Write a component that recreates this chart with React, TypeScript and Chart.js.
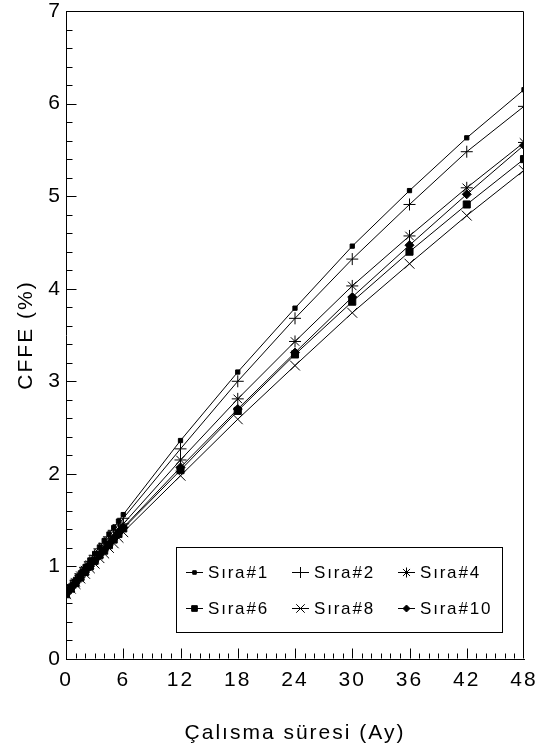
import React, { useEffect, useRef } from 'react';
import { Chart, registerables } from 'chart.js';
import { drawPoint } from 'chart.js/helpers';

Chart.register(...registerables);

// months of operation
const months = [0, 0.5, 1, 1.5, 2, 2.5, 3, 3.5, 4, 4.5, 5, 5.5, 6, 12, 18, 24, 30, 36, 42, 48];

const sira1 = [0.72, 0.79, 0.86, 0.93, 1.0, 1.07, 1.14, 1.21, 1.28, 1.35, 1.42, 1.49, 1.56, 2.36, 3.1, 3.79, 4.46, 5.06, 5.63, 6.15];
const sira2 = [0.72, 0.79, 0.85, 0.92, 0.99, 1.05, 1.12, 1.19, 1.25, 1.32, 1.39, 1.45, 1.52, 2.27, 3.0, 3.68, 4.32, 4.91, 5.48, 5.97];
const sira4 = [0.71, 0.77, 0.83, 0.9, 0.96, 1.02, 1.08, 1.14, 1.21, 1.27, 1.33, 1.4, 1.46, 2.15, 2.81, 3.43, 4.03, 4.57, 5.09, 5.58];
const sira6 = [0.7, 0.76, 0.82, 0.88, 0.94, 1.0, 1.06, 1.12, 1.17, 1.23, 1.29, 1.35, 1.41, 2.04, 2.68, 3.29, 3.86, 4.4, 4.91, 5.4];
const sira8 = [0.7, 0.76, 0.81, 0.87, 0.92, 0.98, 1.03, 1.09, 1.14, 1.2, 1.25, 1.31, 1.37, 1.98, 2.59, 3.17, 3.74, 4.27, 4.79, 5.28];
const sira10 = [0.7, 0.76, 0.82, 0.88, 0.94, 1.0, 1.06, 1.12, 1.18, 1.24, 1.3, 1.36, 1.42, 2.07, 2.7, 3.31, 3.91, 4.47, 5.02, 5.55];

const seriesNames = ['Sıra#1', 'Sıra#2', 'Sıra#4', 'Sıra#6', 'Sıra#8', 'Sıra#10'];
const seriesValues = [sira1, sira2, sira4, sira6, sira8, sira10];

const xTitle = 'Çalısma süresi (Ay)';
const yTitle = 'CFFE (%)';
const xMin = 0, xMax = 48, xStep = 6, xMinorStep = 1;
const yMin = 0, yMax = 7, yStep = 1, yMinorStep = 0.2;

// marker styles (style only)
const markerStyles = [
  { pointStyle: 'rect', radius: 3, legendRadius: 2.5 },
  { pointStyle: 'cross', radius: 6, legendRadius: 5.5 },
  { pointStyle: 'star', radius: 6, legendRadius: 5 },
  { pointStyle: 'rect', radius: 5, legendRadius: 4 },
  { pointStyle: 'crossRot', radius: 7, legendRadius: 6 },
  { pointStyle: 'rectRot', radius: 4.5, legendRadius: 3.5 },
];

const FONT = "'Liberation Sans', Arial, Helvetica, sans-serif";

const framePlugin = {
  id: 'frameAndTicks',
  beforeDraw(chart: any) {
    chart.ctx.letterSpacing = '2px';
  },
  afterDraw(chart: any) {
    const ctx = chart.ctx;
    const ca = chart.chartArea;
    const xs = chart.scales.x;
    const ys = chart.scales.y;
    ctx.save();
    ctx.strokeStyle = '#000';
    ctx.lineWidth = 1;
    // top and right frame
    const l = Math.round(ca.left) + 0.5;
    const r = Math.round(ca.right) - 0.5;
    const t = Math.round(ca.top) + 0.5;
    const b = Math.round(ca.bottom) - 0.5;
    ctx.beginPath();
    ctx.moveTo(l, t);
    ctx.lineTo(r, t);
    ctx.lineTo(r, b);
    ctx.stroke();
    // inward ticks on y
    const nY = Math.round((yMax - yMin) / yMinorStep);
    for (let i = 1; i < nY; i++) {
      const v = yMin + i * yMinorStep;
      const major = i % Math.round(yStep / yMinorStep) === 0;
      const py = Math.round(ys.getPixelForValue(v)) + 0.5;
      ctx.beginPath();
      ctx.moveTo(l, py);
      ctx.lineTo(l + (major ? 10 : 6), py);
      ctx.stroke();
    }
    // inward ticks on x
    const nX = Math.round((xMax - xMin) / xMinorStep);
    for (let i = 1; i < nX; i++) {
      const v = xMin + i * xMinorStep;
      const major = i % Math.round(xStep / xMinorStep) === 0;
      const px = Math.round(xs.getPixelForValue(v)) + 0.5;
      ctx.beginPath();
      ctx.moveTo(px, b);
      ctx.lineTo(px, b - (major ? 10 : 5));
      ctx.stroke();
    }
    // legend
    const L = ca.left + 110;
    const T = ca.top + 536;
    const W = 326;
    const H = 85;
    ctx.strokeRect(Math.round(L) + 0.5, Math.round(T) + 0.5, W, H);
    const colX = [L + 10, L + 116, L + 222];
    const rowY = [T + 25, T + 61];
    ctx.font = `17px ${FONT}`;
    ctx.letterSpacing = '1.8px';
    ctx.textBaseline = 'middle';
    ctx.textAlign = 'left';
    seriesNames.forEach((name, i) => {
      const x0 = colX[i % 3];
      const y0 = rowY[Math.floor(i / 3)];
      ctx.strokeStyle = '#000';
      ctx.fillStyle = '#000';
      ctx.lineWidth = 1;
      ctx.beginPath();
      ctx.moveTo(x0, y0 + 0.5);
      ctx.lineTo(x0 + 17, y0 + 0.5);
      ctx.stroke();
      const ms = markerStyles[i];
      drawPoint(ctx, { pointStyle: ms.pointStyle, radius: ms.legendRadius, borderWidth: 1, rotation: 0 }, x0 + 8.5, y0 + 0.5);
      ctx.fillStyle = '#000';
      ctx.fillText(name, x0 + 22, y0 + 1);
    });
    ctx.restore();
    ctx.letterSpacing = '0px';
  },
};

export default function App() {
  const canvasRef = useRef<HTMLCanvasElement | null>(null);

  useEffect(() => {
    const canvas = canvasRef.current;
    if (!canvas) return;
    const datasets = seriesNames.map((name, i) => ({
      label: name,
      data: months.map((m, j) => ({ x: m, y: seriesValues[i][j] })),
      borderColor: '#000',
      backgroundColor: '#000',
      borderWidth: 1,
      pointStyle: markerStyles[i].pointStyle,
      pointRadius: markerStyles[i].radius,
      pointBackgroundColor: '#000',
      pointBorderColor: '#000',
      pointBorderWidth: 1,
      tension: 0,
      fill: false,
    }));
    const chart = new Chart(canvas, {
      type: 'line',
      data: { datasets },
      plugins: [framePlugin],
      options: {
        animation: false,
        responsive: false,
        layout: { padding: { top: 11, right: 26, left: 0, bottom: 0 } },
        plugins: { legend: { display: false }, tooltip: { enabled: false } },
        scales: {
          x: {
            type: 'linear',
            min: xMin,
            max: xMax,
            afterFit: (s: any) => { s.height = 95; s.paddingLeft = 0; s.paddingRight = 0; },
            ticks: { stepSize: xStep, autoSkip: false, color: '#000', padding: 9, font: { family: FONT, size: 21 } },
            grid: { drawOnChartArea: false, drawTicks: false },
            border: { display: true, color: '#000', width: 1 },
            title: { display: true, text: xTitle, color: '#000', font: { family: FONT, size: 21 }, padding: { top: 0, bottom: 8 } },
          },
          y: {
            type: 'linear',
            min: yMin,
            max: yMax,
            afterFit: (s: any) => { s.width = 66; s.paddingTop = 0; s.paddingBottom = 0; },
            ticks: { stepSize: yStep, autoSkip: false, color: '#000', padding: 4, font: { family: FONT, size: 21 } },
            grid: { drawOnChartArea: false, drawTicks: false },
            border: { display: true, color: '#000', width: 1 },
            title: { display: true, text: yTitle, color: '#000', font: { family: FONT, size: 21 }, padding: { top: 14, bottom: 0 } },
          },
        },
      } as any,
    });
    return () => chart.destroy();
  }, []);

  return (
    <div style={{ position: 'absolute', left: 0, top: 0, width: 550, height: 754, background: '#fff' }}>
      <canvas ref={canvasRef} width={550} height={754} style={{ display: 'block' }} />
    </div>
  );
}
